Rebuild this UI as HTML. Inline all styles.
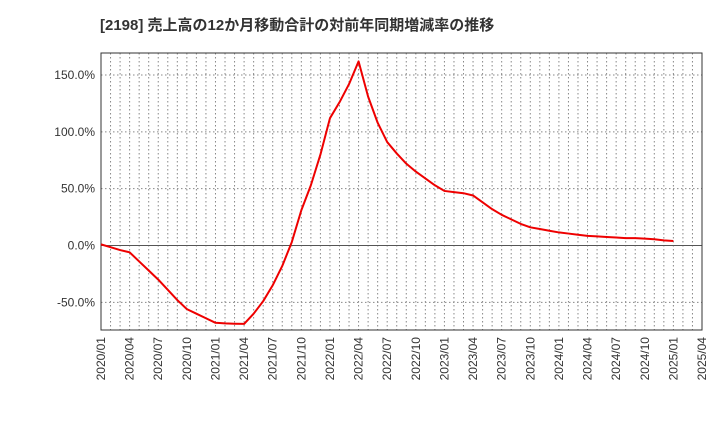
<!DOCTYPE html>
<html><head><meta charset="utf-8"><style>
body{margin:0;background:#fff;}
svg{display:block;font-family:"Liberation Sans","Noto Sans CJK JP",sans-serif;}
</style></head><body>
<svg id="c" width="720" height="440">
<text x="100" y="30" font-size="15" font-weight="bold" fill="#333">[2198]  売上高の12か月移動合計の対前年同期増減率の推移</text>
<g id="grid"></g><g id="axes"></g><g id="series"></g>
</svg>
<script>
const months = [];
for (let y=2020;y<=2025;y++) for (let m=1;m<=12;m++) months.push(y+'/'+String(m).padStart(2,'0'));
const values = [1,-1.5,-4,-6,-14,-22,-30,-39,-48,-56,-60,-64,-68,-68.5,-68.8,-69,-60,-49,-35,-18,3,31,53,80,112,126,142,162,131,108,91,81,72,65,59,53,48,47,46,44,38,32,27,23,19,16,14.5,13,11.5,10.5,9.5,8.5,8,7.5,7,6.5,6.5,6,5.5,4.5,4];
const yTicks = [-50,0,50,100,150];
const xTickLabels = ['2020/01','2020/04','2020/07','2020/10','2021/01','2021/04','2021/07','2021/10','2022/01','2022/04','2022/07','2022/10','2023/01','2023/04','2023/07','2023/10','2024/01','2024/04','2024/07','2024/10','2025/01','2025/04'];
const L=101,R=702,T=53,B=330,NM=63;
const xs=i=>L+(R-L)*i/NM;
const ys=v=>245.5-v*(170.5/150);
const NS='http://www.w3.org/2000/svg';
function mk(p,tag,at){const e=document.createElementNS(NS,tag);for(const k in at)e.setAttribute(k,at[k]);p.appendChild(e);return e;}
const g=document.getElementById('grid'),a=document.getElementById('axes'),s=document.getElementById('series');
for(let i=1;i<NM;i++){const l=mk(g,'line',{x1:xs(i),x2:xs(i),y1:T,y2:B,stroke:'#888','stroke-dasharray':'1.5,2.5','stroke-width':1});

}
yTicks.forEach(v=>{const y=ys(v);
const l=mk(g,'line',{x1:L,x2:R,y1:y,y2:y,stroke:v===0?'#555':'#888','stroke-dasharray':v===0?'':'1.5,2.5','stroke-width':1});


const t=mk(a,'text',{x:L-6,y:y+4,'text-anchor':'end','font-size':12,fill:'#333'});t.textContent=v.toFixed(1)+'%';

});
xTickLabels.forEach(lbl=>{const i=months.indexOf(lbl);const x=xs(i);
const t=mk(a,'text',{transform:`translate(${x+4},337) rotate(-90)`,'text-anchor':'end','font-size':12,fill:'#333'});t.textContent=lbl;

});
const f=mk(a,'rect',{x:L,y:T,width:R-L,height:B-T,fill:'none',stroke:'#333','stroke-width':1});


const pl=mk(s,'polyline',{points:values.map((v,i)=>xs(i)+','+ys(v)).join(' '),fill:'none',stroke:'#ee0000','stroke-width':2,'stroke-linejoin':'round'});


</script>
</body></html>
